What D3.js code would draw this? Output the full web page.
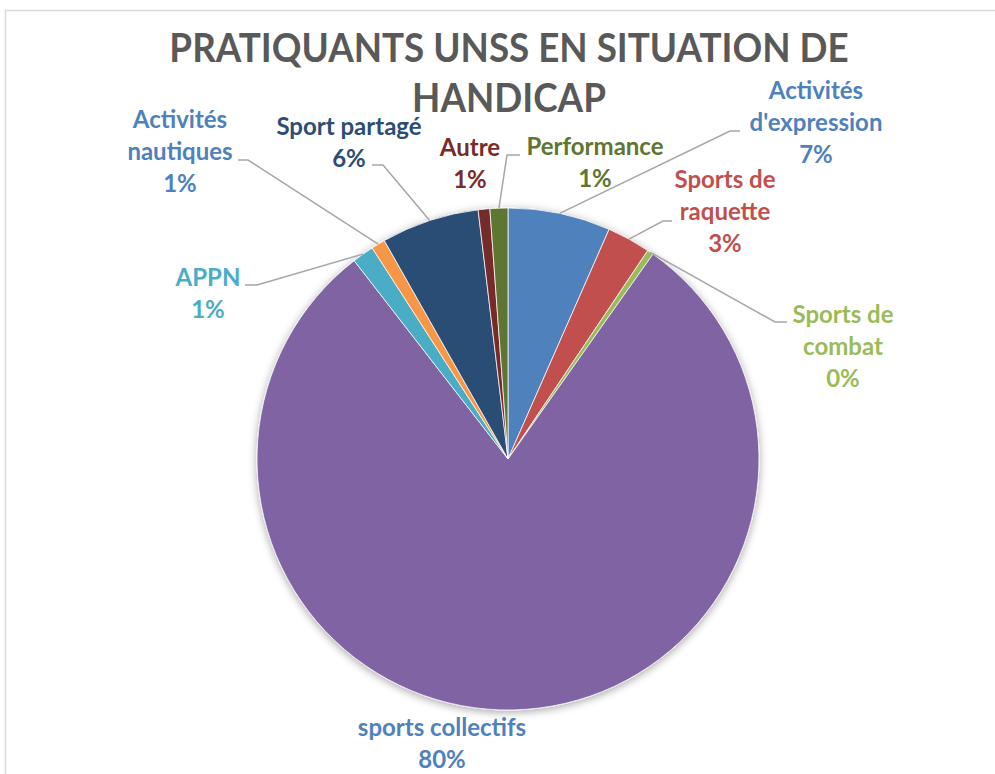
<!DOCTYPE html>
<html>

<head>
    <title>Pratiquants UNSS en situation de handicap</title>
    <meta charset="utf-8">
    <style>
        body { margin: 0; background: #fff; }
        text { font-family: Lato, "Open Sans", sans-serif; font-weight: bold; }
    </style>
</head>
<script src="https://d3js.org/d3.v7.min.js"></script>

<body>
    <div id="chart"></div>
    <script>
        // slices, clockwise from 12 o'clock
        const categories = ["Activités d'expression", "Sports de raquette", "Sports de combat",
            "sports collectifs", "APPN", "Activités nautiques", "Sport partagé", "Autre", "Performance"];
        const values = [6.6, 2.8, 0.4, 79.7, 1.4, 0.9, 6.3, 0.75, 1.15];
        const titleLines = ["PRATIQUANTS UNSS EN SITUATION DE", "HANDICAP"];

        const COLOR = {
            BLUE: "#4F81BD",
            RED: "#C0504D",
            GREEN: "#9BBB59",
            PURPLE: "#8064A2",
            TEAL: "#4BACC6",
            ORANGE: "#F79646",
            DARK_BLUE: "#2C4D75",
            DARK_RED: "#772C2A",
            DARK_GREEN: "#5F7530",
            TITLE: "#595959",
            LEADER: "#A6A6A6"
        };
        const sliceColors = [COLOR.BLUE, COLOR.RED, COLOR.GREEN, COLOR.PURPLE, COLOR.TEAL,
            COLOR.ORANGE, COLOR.DARK_BLUE, COLOR.DARK_RED, COLOR.DARK_GREEN];

        // label placement (center x, first line center y, text lines, leader elbow)
        const labelLayout = [
            { x: 816, y: 91, lines: ["Activités", "d'expression"], color: COLOR.BLUE, elbow: [730, 131], end: 740 },
            { x: 725, y: 180, lines: ["Sports de", "raquette"], color: COLOR.RED, elbow: [663, 221], end: 672 },
            { x: 843, y: 315, lines: ["Sports de", "combat"], color: COLOR.GREEN, elbow: [775, 322], end: 787 },
            { x: 442, y: 728, lines: ["sports collectifs"], color: COLOR.BLUE, elbow: null },
            { x: 208, y: 278, lines: ["APPN"], color: COLOR.TEAL, elbow: [257, 285], end: 245 },
            { x: 180, y: 120, lines: ["Activités", "nautiques"], color: COLOR.BLUE, elbow: [248, 160], end: 238 },
            { x: 349, y: 127, lines: ["Sport partagé"], color: COLOR.DARK_BLUE, elbow: [383, 165], end: 372 },
            { x: 470, y: 148, lines: ["Autre"], color: COLOR.DARK_RED, elbow: null },
            { x: 595, y: 147, lines: ["Performance"], color: COLOR.DARK_GREEN, elbow: [507, 155], end: 520 }
        ];

        const width = 995, height = 774;
        const cx = 508, cy = 459, radius = 251;
        const lineStep = 32;
        const titleSqueeze = 0.92;

        const svg = d3.select("#chart").append("svg")
            .attr("width", width)
            .attr("height", height);

        // soft shadow under the pie
        const defs = svg.append("defs");
        defs.append("filter")
            .attr("id", "shadow")
            .attr("x", "-20%").attr("y", "-20%")
            .attr("width", "140%").attr("height", "140%")
            .append("feDropShadow")
            .attr("dx", 0).attr("dy", 2)
            .attr("stdDeviation", 4)
            .attr("flood-color", "#000")
            .attr("flood-opacity", 0.35);

        // chart frame
        svg.append("rect")
            .attr("x", 5.5).attr("y", 10.5)
            .attr("width", 1100).attr("height", 1000)
            .attr("fill", "none")
            .attr("stroke", "#D9D9D9")
            .attr("stroke-width", 1.5);

        // title (Calibri is narrower than Lato, so squeeze a bit)
        svg.append("g")
            .selectAll("text")
            .data(titleLines)
            .join("text")
            .attr("x", 509)
            .attr("y", (d, i) => 62 + i * 50)
            .attr("text-anchor", "middle")
            .attr("fill", COLOR.TITLE)
            .style("font-size", "40px")
            .text(d => d)
            .each(function () {
                const w = this.getComputedTextLength();
                d3.select(this)
                    .attr("textLength", w * titleSqueeze)
                    .attr("lengthAdjust", "spacingAndGlyphs");
            });

        const total = d3.sum(values);
        const fmt = d3.format(".0%");

        const pie = d3.pie().sort(null).value(d => d)(values);
        const arc = d3.arc().innerRadius(0).outerRadius(radius);
        const edge = d3.arc().innerRadius(radius).outerRadius(radius);

        const g = svg.append("g").attr("transform", "translate(" + cx + "," + cy + ")");

        g.append("g")
            .attr("filter", "url(#shadow)")
            .selectAll("path")
            .data(pie)
            .join("path")
            .attr("d", arc)
            .attr("fill", (d, i) => sliceColors[i])
            .attr("stroke", "#fff")
            .attr("stroke-width", 0.75);

        // leader lines
        svg.append("g")
            .selectAll("polyline")
            .data(pie.filter((d, i) => labelLayout[i].elbow))
            .join("polyline")
            .attr("fill", "none")
            .attr("stroke", COLOR.LEADER)
            .attr("stroke-width", 1.5)
            .attr("points", function (d) {
                const L = labelLayout[d.index];
                const p = edge.centroid(d);
                return [[cx + p[0], cy + p[1]], L.elbow, [L.end, L.elbow[1]]].join(" ");
            });

        // data labels
        const labels = svg.append("g")
            .selectAll("text")
            .data(pie)
            .join("text")
            .attr("text-anchor", "middle")
            .attr("fill", (d, i) => labelLayout[i].color)
            .style("font-size", "24px");

        labels.each(function (d, i) {
            const L = labelLayout[i];
            const lines = L.lines.concat([fmt(d.value / total)]);
            d3.select(this).selectAll("tspan")
                .data(lines)
                .join("tspan")
                .attr("x", L.x)
                .attr("y", (t, j) => L.y + j * lineStep)
                .attr("dy", "0.35em")
                .text(t => t);
        });
    </script>
</body>

</html>
